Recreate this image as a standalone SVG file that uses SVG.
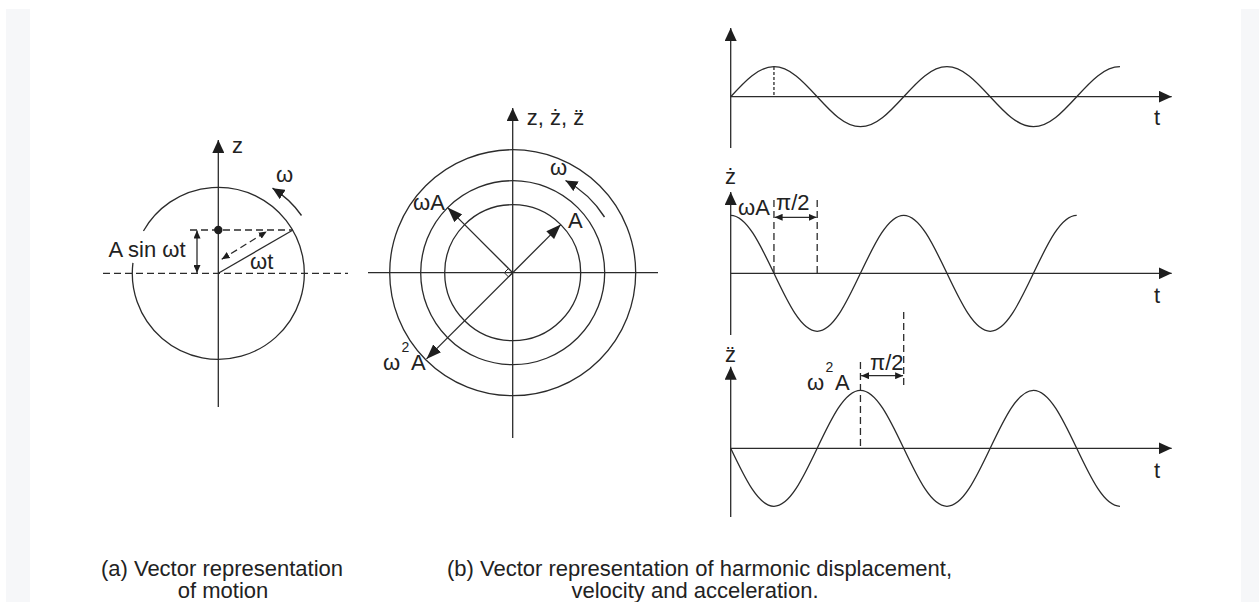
<svg xmlns="http://www.w3.org/2000/svg" width="1259" height="602" viewBox="0 0 1259 602">
<style>
.ln{fill:none;stroke:#2b2b2b;stroke-width:1.3}
.ds{fill:none;stroke:#2b2b2b;stroke-width:1.3;stroke-dasharray:7 4}
.dt{fill:none;stroke:#2b2b2b;stroke-width:1.3;stroke-dasharray:3 2}
.tx{font-family:"Liberation Sans",Arial,sans-serif;font-size:22px;fill:#222}
.sup{font-family:"Liberation Sans",Arial,sans-serif;font-size:14px;fill:#222}
</style>
<defs>
<marker id="ah" markerUnits="userSpaceOnUse" markerWidth="14" markerHeight="12" refX="13" refY="6" orient="auto-start-reverse"><path d="M0,0 L13,6 L0,12 z" fill="#1e1e1e"/></marker>
<marker id="av" markerUnits="userSpaceOnUse" markerWidth="16" markerHeight="11" refX="15" refY="5.5" orient="auto-start-reverse"><path d="M0,0 L15,5.5 L0,11 z" fill="#1e1e1e"/></marker>
<marker id="am" markerUnits="userSpaceOnUse" markerWidth="13" markerHeight="11" refX="12" refY="5.5" orient="auto"><path d="M0,0 L12,5.5 L0,11 z" fill="#1e1e1e"/></marker>
<marker id="as" markerUnits="userSpaceOnUse" markerWidth="9" markerHeight="7" refX="8" refY="3.5" orient="auto-start-reverse"><path d="M0,0 L8,3.5 L0,7 z" fill="#1e1e1e"/></marker>
</defs>
<rect x="0" y="0" width="1259" height="602" fill="#ffffff"/>
<rect x="6" y="9" width="24" height="593" fill="#f6f7f9"/>
<rect x="1241" y="9" width="18" height="593" fill="#f6f7f9"/>

<g id="vector-motion">
<path class="ln" d="M143.45,230.95 A86,86 0 1 1 132.94,262.82"/>
<line class="ln" x1="218.3" y1="407" x2="218.3" y2="140" marker-end="url(#ah)"/>
<line class="ds" x1="103" y1="273.3" x2="348" y2="273.3"/>
<line class="ds" x1="190" y1="230" x2="293" y2="230"/>
<line class="ln" x1="218.3" y1="273.3" x2="293" y2="230"/>
<line class="ds" x1="221.7" y1="259.3" x2="266.7" y2="231.5" marker-start="url(#as)" marker-end="url(#as)"/>
<line class="ln" x1="197" y1="230.5" x2="197" y2="273" marker-start="url(#as)" marker-end="url(#as)"/>
<circle cx="218.3" cy="230" r="4.2" fill="#1e1e1e"/>
<path class="ln" d="M301.5,215.5 A101,101 0 0 0 272.5,188.2" marker-end="url(#am)" style="stroke-width:1.4"/>
<text class="tx" x="232" y="153">z</text>
<text class="tx" x="276" y="182">ω</text>
<text class="tx" x="108.5" y="257">A sin ωt</text>
<text class="tx" x="250" y="269">ωt</text>
</g>

<g id="vector-harmonic">
<circle class="ln" cx="512.7" cy="272.7" r="123"/>
<circle class="ln" cx="512.7" cy="272.7" r="92"/>
<circle class="ln" cx="512.7" cy="272.7" r="68"/>
<line class="ln" x1="512.7" y1="438" x2="512.7" y2="108" marker-end="url(#ah)"/>
<line class="ln" x1="368" y1="272.7" x2="658" y2="272.7"/>
<line class="ln" x1="512.7" y1="272.7" x2="560.8" y2="224.6" marker-end="url(#av)"/>
<line class="ln" x1="512.7" y1="272.7" x2="447.6" y2="207.6" marker-end="url(#av)"/>
<line class="ln" x1="512.7" y1="272.7" x2="426.5" y2="358.9" marker-end="url(#av)"/>
<path class="ln" d="M512.7,272.7 L508.5,268.5 L504.3,272.7 L508.5,276.9 z" style="stroke-width:1"/>
<path class="ln" d="M604.5,217 A107,107 0 0 0 565.5,180.5" marker-end="url(#am)" style="stroke-width:1.4"/>
<text class="tx" x="526.7" y="124.7">z, ż, z̈</text>
<text class="tx" x="413" y="210">ωA</text>
<text class="tx" x="568" y="228">A</text>
<text class="tx" x="550" y="175">ω</text>
<text class="tx" x="383" y="370">ω</text>
<text class="sup" x="401.5" y="352">2</text>
<text class="tx" x="411" y="370">A</text>
</g>

<g id="displacement">
<line class="ln" x1="730.7" y1="148" x2="730.7" y2="28" marker-end="url(#ah)"/>
<line class="ln" x1="730.7" y1="96.7" x2="1171.7" y2="96.7" marker-end="url(#ah)"/>
<path class="ln" d="M730.7,96.7 c14.1,-15.37 27.59,-30 43.25,-30 c15.66,0 29.15,14.63 43.25,30 c14.1,15.37 27.59,30 43.25,30 c15.66,0 29.15,-14.63 43.25,-30 c14.1,-15.37 27.59,-30 43.25,-30 c15.66,0 29.15,14.63 43.25,30 c14.1,15.37 27.59,30 43.25,30 c15.66,0 29.15,-14.63 43.25,-30 c14.1,-15.37 27.59,-30 43.25,-30"/>
<line class="dt" x1="773.95" y1="67" x2="773.95" y2="96.7"/>
<text class="tx" x="1154" y="125">t</text>
</g>

<g id="velocity">
<line class="ln" x1="730.7" y1="335" x2="730.7" y2="192" marker-end="url(#ah)"/>
<line class="ln" x1="730.7" y1="273.3" x2="1171.7" y2="273.3" marker-end="url(#ah)"/>
<path class="ln" d="M730.7,215.3 c15.66,0 29.15,28.29 43.25,58 c14.1,29.71 27.59,58 43.25,58 c15.66,0 29.15,-28.29 43.25,-58 c14.1,-29.71 27.59,-58 43.25,-58 c15.66,0 29.15,28.29 43.25,58 c14.1,29.71 27.59,58 43.25,58 c15.66,0 29.15,-28.29 43.25,-58 c14.1,-29.71 27.59,-58 43.25,-58"/>
<line class="ds" x1="773.95" y1="200" x2="773.95" y2="273.3"/>
<line class="ds" x1="817.2" y1="200" x2="817.2" y2="273.3"/>
<line class="ln" x1="774.6" y1="217.3" x2="816.6" y2="217.3" marker-start="url(#as)" marker-end="url(#as)"/>
<text class="tx" x="725" y="184">ż</text>
<text class="tx" x="738" y="215">ωA</text>
<text class="tx" x="776" y="210">π/2</text>
<text class="tx" x="1154" y="303">t</text>
</g>

<g id="acceleration">
<line class="ln" x1="730.7" y1="517" x2="730.7" y2="366.7" marker-end="url(#ah)"/>
<line class="ln" x1="730.7" y1="448.3" x2="1171.7" y2="448.3" marker-end="url(#ah)"/>
<path class="ln" d="M730.7,448.3 c14.1,29.71 27.59,58 43.25,58 c15.66,0 29.15,-28.29 43.25,-58 c14.1,-29.71 27.59,-58 43.25,-58 c15.66,0 29.15,28.29 43.25,58 c14.1,29.71 27.59,58 43.25,58 c15.66,0 29.15,-28.29 43.25,-58 c14.1,-29.71 27.59,-58 43.25,-58 c15.66,0 29.15,28.29 43.25,58 c14.1,29.71 27.59,58 43.25,58"/>
<line class="ds" x1="860.45" y1="362" x2="860.45" y2="448.3"/>
<line class="ds" x1="903.7" y1="312" x2="903.7" y2="387"/>
<line class="ln" x1="861.1" y1="375.7" x2="903.1" y2="375.7" marker-start="url(#as)" marker-end="url(#as)"/>
<text class="tx" x="725" y="362">z̈</text>
<text class="tx" x="807" y="390">ω</text>
<text class="sup" x="825.5" y="372">2</text>
<text class="tx" x="835" y="390">A</text>
<text class="tx" x="870" y="370">π/2</text>
<text class="tx" x="1154" y="478">t</text>
</g>

<g id="captions">
<text class="tx" x="222" y="575.5" text-anchor="middle">(a) Vector representation</text>
<text class="tx" x="223" y="598" text-anchor="middle">of motion</text>
<text class="tx" x="699.5" y="575.5" text-anchor="middle">(b) Vector representation of harmonic displacement,</text>
<text class="tx" x="695" y="598" text-anchor="middle">velocity and acceleration.</text>
</g>
</svg>
